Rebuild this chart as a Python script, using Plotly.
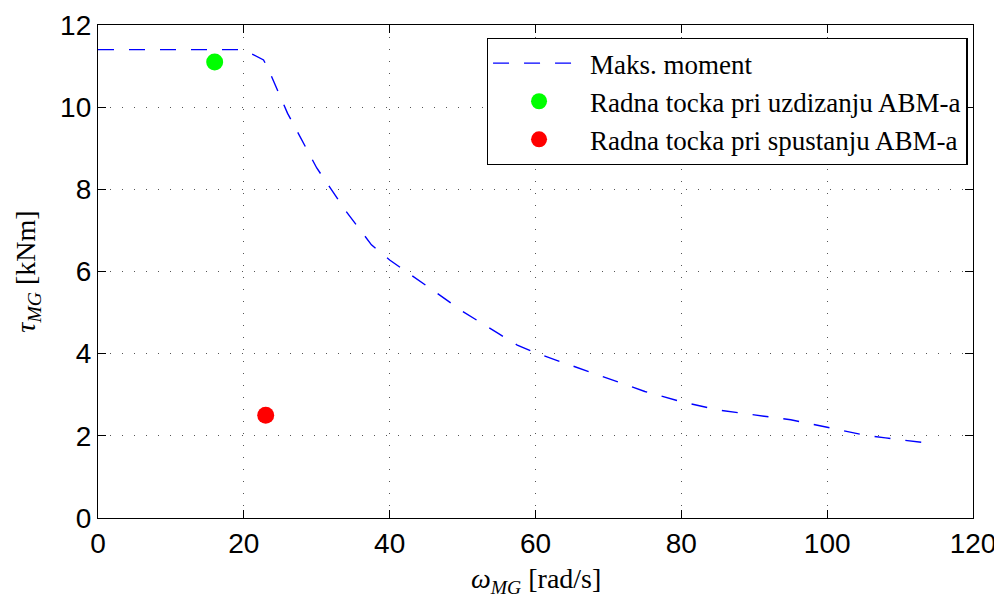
import plotly.graph_objects as go

# Max torque curve (omega [rad/s], tau [kNm])
omega_max = [0, 19.5, 20.5, 22.7, 23.3, 26, 30, 34, 37.5, 40, 45, 50, 55, 57.5, 60,
             65, 70, 75, 80, 85, 90, 95, 100, 105, 108, 113]
tau_max = [11.4, 11.4, 11.35, 11.15, 10.95, 9.85, 8.52, 7.47, 6.65, 6.28, 5.66, 5.03, 4.48, 4.21, 4.02,
           3.71, 3.40, 3.08, 2.83, 2.63, 2.51, 2.39, 2.21, 2.02, 1.95, 1.84]

# Operating points
omega_up = [16]
tau_up = [11.1]
omega_down = [23]
tau_down = [2.5]

x_ticks = [0, 20, 40, 60, 80, 100, 120]
y_ticks = [0, 2, 4, 6, 8, 10, 12]

tick_font = dict(family="Liberation Sans", size=28, color="black")
serif = "Liberation Serif"

fig = go.Figure()
fig.add_trace(go.Scatter(
    x=omega_max, y=tau_max, mode="lines", name="Maks. moment",
    line=dict(color="#0000ff", width=1.4, dash="16px,15px"),
))
fig.add_trace(go.Scatter(
    x=omega_up, y=tau_up, mode="markers", name="Radna tocka pri uzdizanju ABM-a",
    marker=dict(color="#00ff00", size=17),
))
fig.add_trace(go.Scatter(
    x=omega_down, y=tau_down, mode="markers", name="Radna tocka pri spustanju ABM-a",
    marker=dict(color="#ff0000", size=17),
))

axis_common = dict(
    showline=True, linecolor="black", linewidth=1.3, mirror="ticks",
    ticks="inside", ticklen=8, tickwidth=1, tickcolor="black",
    showgrid=True, gridcolor="#555555", gridwidth=1, griddash="1px,11px",
    zeroline=False, tickfont=tick_font, automargin=False,
)

# The page body has an 8px margin, so the figure is 8px smaller and margins compensate.
fig.update_layout(
    width=994, height=590,
    margin=dict(l=90, r=29, t=17, b=80, autoexpand=False),
    paper_bgcolor="white", plot_bgcolor="white",
    showlegend=True,
    legend=dict(
        x=0.994, y=0.974, xanchor="right", yanchor="top",
        bgcolor="white", bordercolor="black", borderwidth=1.3,
        font=dict(family=serif, size=27, color="black"),
        itemwidth=92, tracegroupgap=0,
    ),
    xaxis=dict(
        range=[0, 120], tickvals=x_ticks, ticktext=[str(v) for v in x_ticks],
        **axis_common,
    ),
    yaxis=dict(
        range=[0, 12], tickvals=y_ticks, ticktext=[str(v) for v in y_ticks],
        **axis_common,
    ),
    annotations=[
        dict(text="<i>ω</i><sub><i>MG</i></sub> [rad/s]", xref="paper", yref="paper",
             x=0.5, y=-0.126, xanchor="center", yanchor="middle", showarrow=False,
             font=dict(family=serif, size=28, color="black")),
        dict(text="<i>τ</i><sub><i>MG</i></sub> [kNm]", xref="paper", yref="paper",
             x=-0.081, y=0.5, xanchor="center", yanchor="middle", showarrow=False,
             textangle=-90, font=dict(family=serif, size=28, color="black")),
    ],
)

fig.write_html("out.html")
